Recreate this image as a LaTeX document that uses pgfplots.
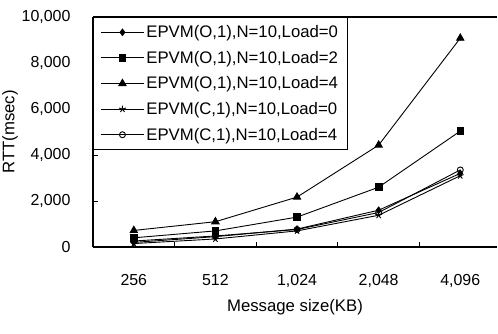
\documentclass[border=0pt]{standalone}
\usepackage{fontspec}
\setmainfont{Liberation Sans}
\usepackage{pgfplots}
\pgfplotsset{compat=1.18}
\usetikzlibrary{calc}
\begin{document}
\begin{tikzpicture}
\begin{axis}[
  scale only axis,
  width=404bp, height=230bp,
  xmin=-0.5, xmax=4.45,
  ymin=0, ymax=10000,
  axis x line*=box, axis y line*=left,
  axis line style={line width=1.2bp},
  xtick={0,1,2,3,4},
  xticklabels={256,512,{1,024},{2,048},{4,096}},
  major x tick style={draw=none},
  minor xtick={0.5,1.5,2.5,3.5},
  minor tick length=5bp,
  xtick pos=bottom, ytick pos=left,
  tick align=inside,
  ytick={0,2000,4000,6000,8000,10000},
  major tick length=5bp,
  tick style={black, line width=0.8bp},
  /pgf/number format/assume math mode=true,
  /pgf/number format/1000 sep={,},
  scaled y ticks=false,
  tick label style={font=\fontsize{16}{18}\selectfont},
  yticklabel style={xshift=-19bp},
  xticklabel style={yshift=-24bp},
  xlabel={Message size(KB)},
  ylabel={RTT(msec)},
  label style={font=\fontsize{16.8}{19}\selectfont},
  xlabel style={yshift=-5bp},
  ylabel style={yshift=-3bp},
  legend cell align=left,
  legend style={at={(0,1)}, anchor=north west, draw=black, line width=1bp,
    font=\fontsize{16.8}{18}\selectfont, row sep=8bp, inner xsep=7bp, inner ysep=6bp},
  legend image code/.code={\draw[mark repeat=2,mark phase=2,#1] plot coordinates {(0bp,0bp)(21.5bp,0bp)(43bp,0bp)};},
  every axis plot/.append style={black, line width=0.9bp},
]
\addplot[mark=diamond*, mark size=3.2bp] coordinates {(0,200) (1,450) (2,780) (3,1600) (4,3200)};
\addlegendentry{EPVM(O,1),N=10,Load=0}
\addplot[mark=square*, mark size=3.3bp] coordinates {(0,400) (1,700) (2,1300) (3,2600) (4,5040)};
\addlegendentry{EPVM(O,1),N=10,Load=2}
\addplot[mark=triangle*, mark size=4.2bp] coordinates {(0,720) (1,1100) (2,2170) (3,4430) (4,9080)};
\addlegendentry{EPVM(O,1),N=10,Load=4}
\addplot[mark=star, mark size=3.5bp] coordinates {(0,150) (1,350) (2,700) (3,1380) (4,3100)};
\addlegendentry{EPVM(C,1),N=10,Load=0}
\addplot[mark=o, mark size=3bp, mark options={fill=white}] coordinates {(0,260) (1,480) (2,760) (3,1500) (4,3350)};
\addlegendentry{EPVM(C,1),N=10,Load=4}
\coordinate (bl) at (rel axis cs:0,0);
\coordinate (tr) at (rel axis cs:1,1);
\end{axis}
\pgfresetboundingbox
\path ($(bl)+(-93bp,-87bp)$) rectangle ($(tr)+(1bp,17bp)$);
\end{tikzpicture}
\end{document}
